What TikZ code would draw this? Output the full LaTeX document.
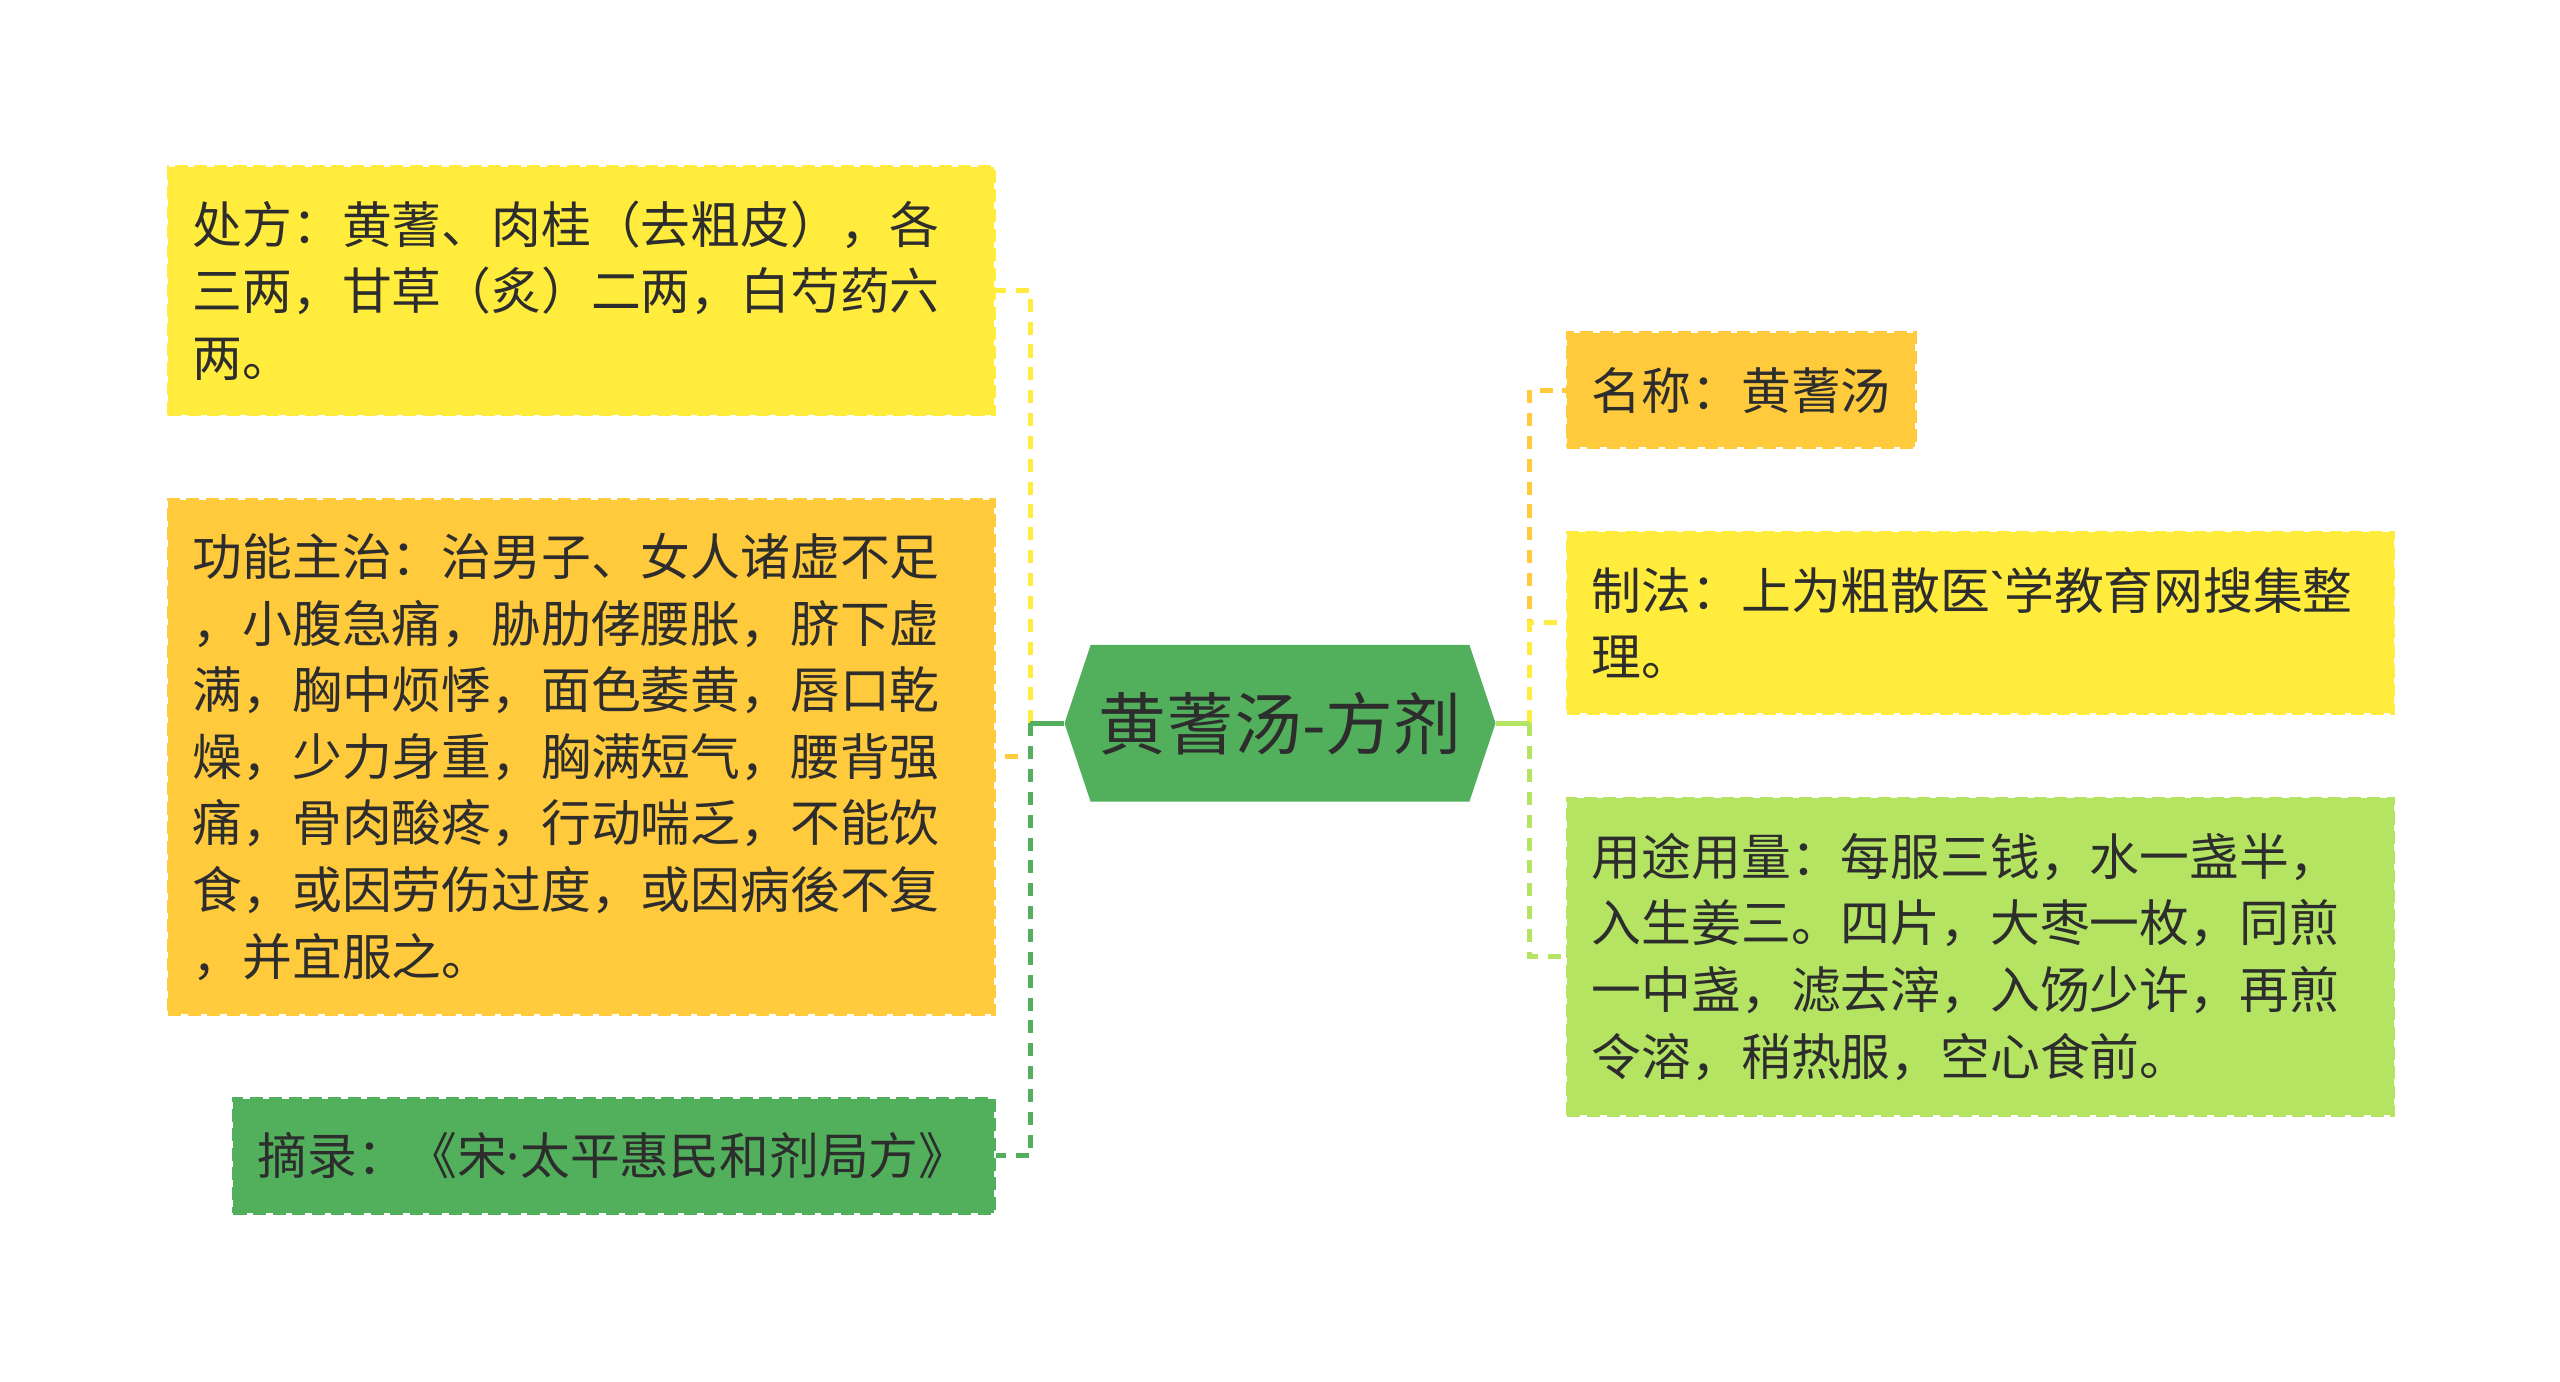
\documentclass[tikz,border=0pt]{standalone}
\usepackage{fontspec}
\newfontfamily\cjk{Noto Sans CJK SC}
\newfontfamily\lat{Noto Sans}
\definecolor{amarillo}{RGB}{255,236,61}
\definecolor{naranja}{RGB}{255,202,60}
\definecolor{verde}{RGB}{82,175,92}
\definecolor{verdeclaro}{RGB}{180,228,98}
\definecolor{texto}{RGB}{45,45,45}
\begin{document}
\begin{tikzpicture}[x=1pt, y=-1pt,
    caja/.style={rectangle, fill=#1, draw=#1, line width=2pt, dash pattern=on 8pt off 4pt,
        text=texto, inner xsep=15pt, inner ysep=0pt, align=left, anchor=west,
        font=\cjk\fontsize{30.5}{40.8}\selectfont},
    enlace/.style={draw=#1, line width=3pt, dash pattern=on 8pt off 6pt},
    tallo/.style={draw=#1, line width=3pt}]
    \useasboundingbox (0,0) rectangle (1568,846);

    % --- NODO CENTRAL ---
    \fill[verde] (652,443) -- (668,395) -- (900,395) -- (916,443) -- (900,491) -- (668,491) -- cycle;
    \node (ctr) [minimum width=264, minimum height=96, inner sep=0pt, text=texto,
        font=\cjk\fontsize{41.5}{48}\selectfont] at (784,443) {黄蓍汤-方剂};

    % --- RAMAS IZQUIERDAS ---
    \node (cf) [caja=amarillo, text width=476, minimum height=152] at (102,178)
        {处方：黄蓍、肉桂（去粗皮），各\\三两，甘草（炙）二两，白芍药六\\两。};
    \node (gn) [caja=naranja, text width=476, minimum height=315] at (102,463.5)
        {功能主治：治男子、女人诸虚不足\\，小腹急痛，胁肋侾腰胀，脐下虚\\满，胸中烦悸，面色萎黄，唇口乾\\燥，少力身重，胸满短气，腰背强\\痛，骨肉酸疼，行动喘乏，不能饮\\食，或因劳伤过度，或因病後不复\\，并宜服之。};
    \node (zl) [caja=verde, text width=436, minimum height=70] at (142,708)
        {摘录：《宋{\lat ·}太平惠民和剂局方》};

    % --- RAMAS DERECHAS ---
    \node (mc) [caja=naranja, text width=183, minimum height=70] at (959,239)
        {名称：黄蓍汤};
    \node (zf) [caja=amarillo, text width=476, minimum height=111] at (959,381.5)
        {制法：上为粗散医{\lat `}学教育网搜集整\\理。};
    \node (yt) [caja=verdeclaro, text width=476, minimum height=194] at (959,586)
        {用途用量：每服三钱，水一盏半，\\入生姜三。四片，大枣一枚，同煎\\一中盏，滤去滓，入饧少许，再煎\\令溶，稍热服，空心食前。};

    % Troncos de conexion
    \coordinate (lt) at (631,443);
    \coordinate (rt) at (937,443);

    \draw[enlace=amarillo] (lt) |- (cf.east);
    \draw[enlace=naranja] (lt) |- (gn.east);
    \draw[enlace=verde] (lt) |- (zl.east);
    \draw[tallo=verde] (ctr.west) -- (lt);

    \draw[enlace=naranja] (rt) |- (mc.west);
    \draw[enlace=amarillo] (rt) |- (zf.west);
    \draw[enlace=verdeclaro] (rt) |- (yt.west);
    \draw[tallo=verdeclaro] (ctr.east) -- (rt);
\end{tikzpicture}
\end{document}
